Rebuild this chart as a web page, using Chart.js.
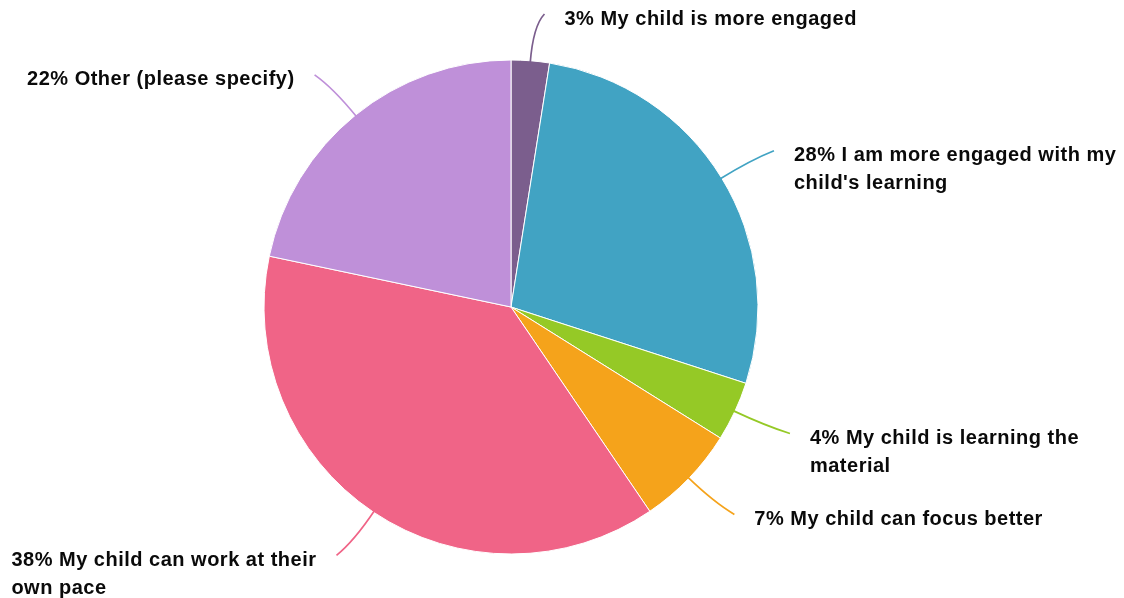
<!DOCTYPE html>
<html>
<head>
<meta charset="utf-8">
<script src="https://cdn.jsdelivr.net/npm/chart.js@4/dist/chart.umd.min.js"></script>
<style>
  html, body { margin: 0; padding: 0; background: #fff; }
  #wrap { width: 1124px; height: 598px; }
</style>
</head>
<body>
<div id="wrap"><canvas id="chart" width="1124" height="598"></canvas></div>
<script>
const categories = [
    'My child is more engaged',
    "I am more engaged with my child's learning",
    'My child is learning the material',
    'My child can focus better',
    'My child can work at their own pace',
    'Other (please specify)'
];
const shares = [2.5, 27.5, 3.9, 6.6, 37.8, 21.7];
const sliceColors = ['#7b5e8d', '#41a3c3', '#95c926', '#f5a31b', '#f06487', '#bf90d9'];

const labelFont = 'bold 20px "Liberation Sans", Arial, sans-serif';

function wrapText(ctx, text, maxWidth) {
    const words = text.split(' ');
    const lines = [];
    let line = '';
    words.forEach(w => {
        const test = line ? line + ' ' + w : w;
        if (line && ctx.measureText(test).width > maxWidth) {
            lines.push(line);
            line = w;
        } else {
            line = test;
        }
    });
    if (line) lines.push(line);
    return lines;
}

// draws the leader lines and the labels beside each slice
const calloutPlugin = {
    id: 'callouts',
    afterDatasetsDraw(chart) {
        const ctx = chart.ctx;
        const meta = chart.getDatasetMeta(0);
        const total = shares.reduce((a, b) => a + b, 0);
        ctx.save();
        ctx.font = labelFont;
        ctx.letterSpacing = '0.5px';
        meta.data.forEach((arc, i) => {
            const { x, y, startAngle, endAngle, outerRadius } = arc.getProps(['x', 'y', 'startAngle', 'endAngle', 'outerRadius'], true);
            const mid = (startAngle + endAngle) / 2;
            const cos = Math.cos(mid), sin = Math.sin(mid);
            const right = cos >= 0;
            const p0 = { x: x + cos * (outerRadius - 2), y: y + sin * (outerRadius - 2) };
            const p1 = { x: x + cos * (outerRadius + 35), y: y + sin * (outerRadius + 35) };
            let p2 = { x: x + cos * (outerRadius + 52) + (right ? 8 : -8), y: y + sin * (outerRadius + 52) };
            if (p2.y < 14) p2 = { x: p2.x + 2, y: 14 };

            ctx.strokeStyle = sliceColors[i];
            ctx.lineWidth = 1.7;
            ctx.beginPath();
            ctx.moveTo(p0.x, p0.y);
            ctx.quadraticCurveTo(p1.x, p1.y, p2.x, p2.y);
            ctx.stroke();

            const pct = Math.round(shares[i] / total * 100);
            const lines = wrapText(ctx, pct + '% ' + categories[i], 335);
            const blockWidth = Math.max(...lines.map(l => ctx.measureText(l).width));
            const left = right ? p2.x + 20 : p2.x - 20 - blockWidth;
            ctx.fillStyle = '#0a0a0a';
            ctx.textAlign = 'left';
            ctx.textBaseline = 'middle';
            lines.forEach((l, j) => {
                ctx.fillText(l, left, p2.y + 5 + j * 28);
            });
        });
        ctx.restore();
    }
};

new Chart(document.getElementById('chart'), {
    type: 'pie',
    data: {
        labels: categories,
        datasets: [{
            data: shares,
            backgroundColor: sliceColors,
            borderColor: '#ffffff',
            borderWidth: 1,
            hoverOffset: 0
        }]
    },
    options: {
        responsive: false,
        animation: false,
        radius: 247,
        layout: { padding: { top: 60, bottom: 44, left: 0, right: 102 } },
        plugins: {
            legend: { display: false },
            tooltip: { enabled: false }
        }
    },
    plugins: [calloutPlugin]
});
</script>
</body>
</html>
